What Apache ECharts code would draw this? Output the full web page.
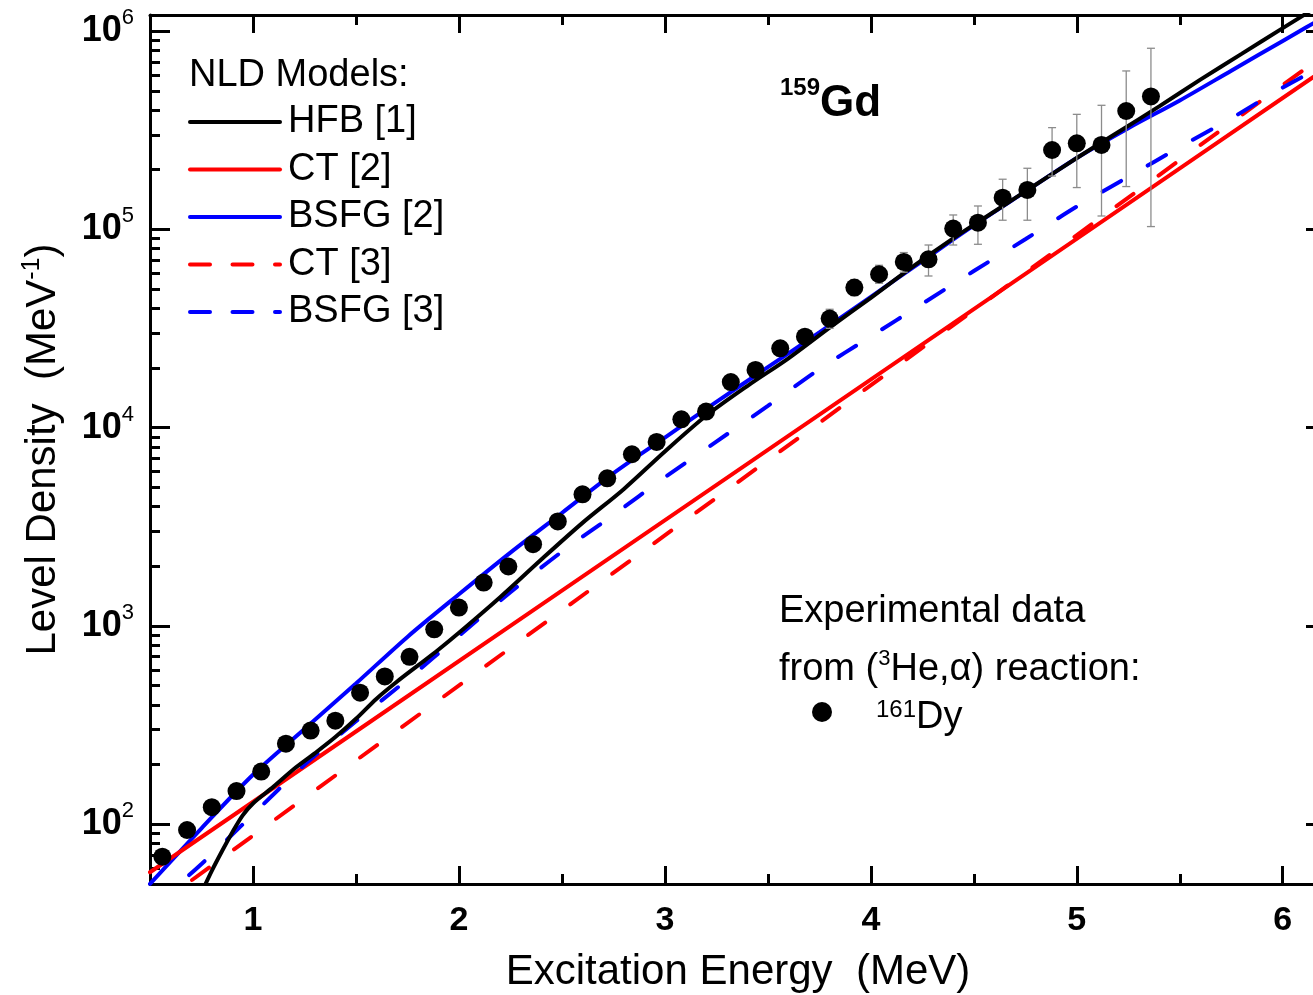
<!DOCTYPE html>
<html><head><meta charset="utf-8">
<script src="https://cdn.jsdelivr.net/npm/echarts@6/dist/echarts.min.js"></script>
<style>html,body{margin:0;padding:0;background:#fff}#c{width:1313px;height:995px}</style>
</head><body><div id="c"></div>
<script>
// ---- data ----
const expEnergy = [0.56,0.68,0.80,0.92,1.04,1.16,1.28,1.40,1.52,1.64,1.76,1.88,2.00,2.12,2.24,2.36,2.48,2.60,2.72,2.84,2.96,3.08,3.20,3.32,3.44,3.56,3.68,3.80,3.92,4.04,4.16,4.28,4.40,4.52,4.64,4.76,4.88,5.00,5.12,5.24,5.36];
const expDensity = [68.7,93.6,122,147,184.5,255,297,333,461,557,699,962,1238,1655,1995,2584,3365,4613,5555,7345,8472,11020,12050,16990,19540,25120,28770,35480,50880,59380,68480,70630,100900,108100,144500,158000,251300,271600,266500,395300,467900];
const errEnergy = [3.80,3.92,4.04,4.16,4.28,4.40,4.52,4.64,4.76,4.88,5.00,5.12,5.24,5.36];
const errLow  = [31700,46340,53490,60800,58200,83400,84100,111200,111200,185800,162500,116800,164400,103300];
const errHigh = [39540,55850,65900,76400,83400,118200,131200,179000,203300,325900,380200,422300,629300,818900];

const hfbEnergy = [0.75,0.80,0.85,0.90,0.95,1.00,1.10,1.20,1.30,1.40,1.50,1.60,1.70,1.80,1.90,2.00,2.20,2.40,2.60,2.80,3.00,3.20,3.40,3.60,3.80,4.00,4.20,4.40,4.60,4.80,5.00,5.20,5.40,5.60,5.80,6.00,6.25];
const hfbDensity = [45.2,58.2,73.3,91.2,110.9,127.4,154.9,190.5,228,275.4,340.4,430,524.8,630.9,758.6,923.6,1396,2163,3311,4898,7586,11480,16220,22390,31990,45190,64570,90160,123000,167900,229100,309000,416900,568900,767400,1035000,1496000];

const bsfg2Energy = [0.50,0.75,1.00,1.25,1.50,1.75,2.00,2.25,2.50,2.75,3.00,3.25,3.50,3.75,4.00,4.25,4.50,4.75,5.00,5.25,5.50,5.75,6.00,6.25];
const bsfg2Density = [50.1,95.5,177.8,302,512.9,881,1445,2344,3715,5888,8913,13490,20180,30200,45710,69180,104700,154900,229100,323600,446700,631000,891300,1259000];

const ct2Energy = [0.50,1.50,2.50,3.50,4.50,5.50,6.25];
const ct2Density = [57.3,293.8,1507,7727,39630,203200,692600];

const ct3Energy = [0.50,1.50,2.50,3.50,4.50,5.50,6.25];
const ct3Density = [36.7,209.7,1198,6847,39130,223600,826000];

const bsfg3Energy = [0.50,0.75,1.00,1.25,1.50,1.75,2.00,2.25,2.50,2.75,3.00,3.25,3.50,3.75,4.00,4.25,4.50,4.75,5.00,5.25,5.50,5.75,6.00,6.25];
const bsfg3Density = [37.2,63.1,112.2,199.5,331.1,537,891.3,1479,2371,3631,5623,8511,12880,19720,28840,42170,61660,89130,130300,184100,260000,363100,518800,716100];

const xMajorTicks = [1,2,3,4,5,6];
const xMinorTicks = [1.5,2.5,3.5,4.5,5.5];
const yMajorTicks = [100,1000,10000,100000,1000000];
const yMinorTicks = [60,70,80,90,200,300,400,500,600,700,800,900,2000,3000,4000,5000,6000,7000,8000,9000,20000,30000,40000,50000,60000,70000,80000,90000,200000,300000,400000,500000,600000,700000,800000,900000];

// ---- chart ----
const FF = "'Liberation Sans', Arial, sans-serif";
const LW = 4;
const zip = (a,b) => a.map((v,i)=>[v,b[i]]);
const X_MIN = 0.5, X_MAX = 6.21, Y_MIN = 50, Y_MAX = 1.205e6;
const gridRect = {left:150, top:15, width:1176, height:869, containLabel:false, outerBoundsMode:'none'};

function xAx(gi, pos, ticks, len, showLine, extra) {
  return Object.assign({
    type:'value', gridIndex:gi, position:pos, min:X_MIN, max:X_MAX, interval:0.5,
    axisLine:{show:showLine, onZero:false, lineStyle:{color:'#000', width:3}},
    axisTick:{show:true, inside:true, length:len, customValues:ticks, lineStyle:{color:'#000', width:3}},
    axisLabel:{show:false}, splitLine:{show:false}, minorTick:{show:false}
  }, extra||{});
}
function yAx(gi, pos, ticks, len, showLine, extra) {
  return Object.assign({
    type:'log', logBase:10, gridIndex:gi, position:pos, min:Y_MIN, max:Y_MAX,
    axisLine:{show:showLine, onZero:false, lineStyle:{color:'#000', width:3}},
    axisTick:{show:true, inside:true, length:len, customValues:ticks, lineStyle:{color:'#000', width:3}},
    axisLabel:{show:false}, splitLine:{show:false}, minorTick:{show:false}
  }, extra||{});
}

const lineSeries = (name, e, d, color, dashed, z, smooth) => ({
  type:'line', name, data:zip(e,d), xAxisIndex:0, yAxisIndex:0,
  symbol:'none', smooth: smooth || false, clip:true, z,
  lineStyle:{color, width:LW, type: dashed ? [21,31] : 'solid', cap:'round'},
  itemStyle:{color}
});

const chart = echarts.init(document.getElementById('c'), null, {renderer:'canvas'});
chart.setOption({
  animation:false,
  backgroundColor:'#fff',
  textStyle:{fontFamily:FF},
  grid:[Object.assign({}, gridRect), Object.assign({}, gridRect)],
  xAxis:[
    xAx(0,'bottom',xMajorTicks,18,true,{
      axisLabel:{show:true, customValues:xMajorTicks, margin:19, color:'#000', fontFamily:FF, fontSize:34, fontWeight:'bold', lineHeight:36},
      name:'Excitation Energy  (MeV)', nameLocation:'middle', nameGap:63,
      nameTextStyle:{color:'#000', fontFamily:FF, fontSize:42, lineHeight:50}
    }),
    xAx(0,'top',xMajorTicks,18,true),
    xAx(1,'bottom',xMinorTicks,10,false),
    xAx(1,'top',xMinorTicks,10,false)
  ],
  yAxis:[
    yAx(0,'left',yMajorTicks,20,true,{
      axisLabel:{show:true, customValues:yMajorTicks, margin:16, color:'#000',
        formatter:(v)=>'{b|10}{s|'+Math.round(Math.log10(v))+'}',
        rich:{
          b:{fontFamily:FF, fontSize:36, fontWeight:'bold', lineHeight:48, color:'#000'},
          s:{fontFamily:FF, fontSize:22, verticalAlign:'top', lineHeight:22, color:'#000'}
        }},
      name:'{a|Level Density  (MeV}{s|-1}{a|)}', nameLocation:'middle', nameGap:82,
      nameTextStyle:{color:'#000', rich:{
        a:{fontFamily:FF, fontSize:42, lineHeight:50, color:'#000'},
        s:{fontFamily:FF, fontSize:25, verticalAlign:'top', lineHeight:25, padding:[2,0,0,0], color:'#000'}
      }}
    }),
    yAx(0,'right',yMajorTicks,20,true),
    yAx(1,'left',yMinorTicks,10,false),
    yAx(1,'right',yMinorTicks,10,false)
  ],
  title:[
    {text:'NLD Models:', left:189, top:52, padding:0,
      textStyle:{fontFamily:FF, fontSize:38, fontWeight:'normal', color:'#000', lineHeight:48}},
    {text:'{s|159}{b|Gd}', left:780, top:76, padding:0,
      textStyle:{rich:{
        s:{fontFamily:FF, fontSize:24, fontWeight:'bold', verticalAlign:'top', lineHeight:24, color:'#000'},
        b:{fontFamily:FF, fontSize:44, fontWeight:'bold', lineHeight:56, color:'#000'}
      }}},
    {text:'{r|Experimental data}\n{r|from (}{s|3}{r|He,α) reaction:}', left:779, top:583, padding:0,
      textStyle:{fontWeight:'normal', rich:{
        r:{fontFamily:FF, fontSize:38, fontWeight:'normal', lineHeight:58, color:'#000'},
        s:{fontFamily:FF, fontSize:22, fontWeight:'normal', verticalAlign:'top', lineHeight:22, padding:[7,0,0,0], color:'#000'}
      }}}
  ],
  legend:[
    {orient:'vertical', left:188, top:103, itemWidth:90, itemHeight:14, itemGap:9.5, padding:0,
      selectedMode:false, itemStyle:{opacity:0, borderWidth:0},
      lineStyle:{width:LW},
      data:[
        {name:'HFB [1]'}, {name:'CT [2]'}, {name:'BSFG [2]'},
        {name:'CT [3]', lineStyle:{width:LW, type:[20,22.5]}}, {name:'BSFG [3]', lineStyle:{width:LW, type:[20,22.5]}}
      ],
      textStyle:{fontFamily:FF, fontSize:38, lineHeight:38, color:'#000', padding:[0,0,0,3]}},
    {orient:'vertical', left:812, top:687, itemWidth:20, itemHeight:20, padding:0, selectedMode:false,
      data:['161Dy'],
      formatter:()=>'{s|161}{r|Dy}',
      textStyle:{rich:{
        s:{fontFamily:FF, fontSize:24, verticalAlign:'top', lineHeight:24, padding:[8,0,0,39], color:'#000'},
        r:{fontFamily:FF, fontSize:38, lineHeight:44, padding:[12,0,0,0], color:'#000'}
      }}}
  ],
  series:[
    lineSeries('BSFG [2]', bsfg2Energy, bsfg2Density, '#0000ff', false, 2, 0.3),
    lineSeries('CT [2]', ct2Energy, ct2Density, '#ff0000', false, 2),
    lineSeries('CT [3]', ct3Energy, ct3Density, '#ff0000', true, 3),
    lineSeries('BSFG [3]', bsfg3Energy, bsfg3Density, '#0000ff', true, 3, 0.3),
    lineSeries('HFB [1]', hfbEnergy, hfbDensity, '#000000', false, 4, 0.3),
    {
      type:'custom', name:'errors', xAxisIndex:0, yAxisIndex:0, z:5, silent:true,
      data: errEnergy.map((e,i)=>[e, errLow[i], errHigh[i]]),
      encode:{x:0, y:[1,2]},
      renderItem:(params, api)=>{
        const e = api.value(0);
        const p1 = api.coord([e, api.value(1)]);
        const p2 = api.coord([e, api.value(2)]);
        const w = 4;
        const st = {stroke:'#8c8c8c', lineWidth:1.3};
        return {type:'group', children:[
          {type:'line', shape:{x1:p1[0], y1:p1[1], x2:p2[0], y2:p2[1]}, style:st},
          {type:'line', shape:{x1:p1[0]-w, y1:p1[1], x2:p1[0]+w, y2:p1[1]}, style:st},
          {type:'line', shape:{x1:p2[0]-w, y1:p2[1], x2:p2[0]+w, y2:p2[1]}, style:st}
        ]};
      }
    },
    {
      type:'scatter', name:'161Dy', data:zip(expEnergy, expDensity), xAxisIndex:0, yAxisIndex:0,
      symbol:'circle', symbolSize:18, z:6, itemStyle:{color:'#000', opacity:1}
    }
  ]
});
</script>
</body></html>
